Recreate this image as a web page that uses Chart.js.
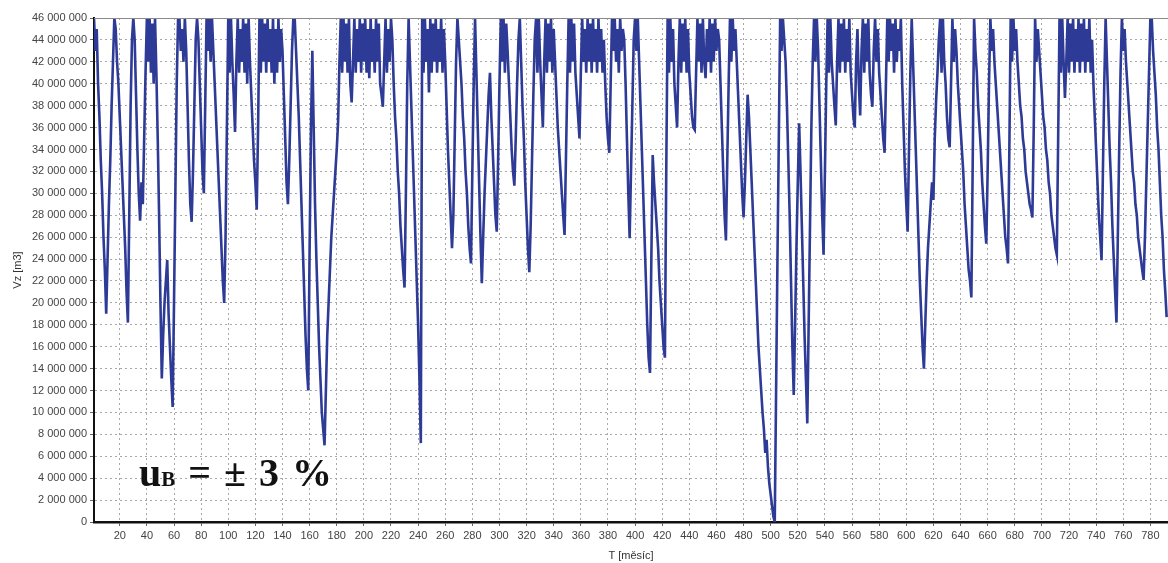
<!DOCTYPE html>
<html>
<head>
<meta charset="utf-8">
<script src="https://cdn.jsdelivr.net/npm/chart.js@4/dist/chart.umd.min.js"></script>
<style>
  body { margin: 0; background: #fff; }
  #wrap { position: relative; width: 1168px; height: 563px; }
  #note {
    position: absolute; left: 139px; top: 453px;
    font-family: 'Liberation Serif', 'Times New Roman', serif;
    font-weight: bold; font-size: 40px; line-height: 40px;
    color: #111; white-space: pre; word-spacing: 3px;
  }
  #note span { font-size: 21px; }
</style>
</head>
<body>
<div id="wrap">
  <canvas id="vzChart"></canvas>
  <div id="note">u<span>B</span> = ± 3 %</div>
</div>
<script>
// x axis: months T [měsíc]
const monthTicks = [20, 40, 60, 80, 100, 120, 140, 160, 180, 200, 220, 240, 260, 280, 300, 320, 340, 360, 380, 400,
  420, 440, 460, 480, 500, 520, 540, 560, 580, 600, 620, 640, 660, 680, 700, 720, 740, 760, 780];

// Vz [m3] in millions, one value per month starting at month 1
const vzMil = [
  46, 43, 45, 40, 37, 33, 30, 26, 23, 19,
  24, 29, 33, 38, 42, 46, 45, 42, 40, 37,
  34, 31, 28, 25, 21, 18.2, 28, 38, 44, 46,
  44, 39, 34, 30, 27.5, 31, 29, 35, 41, 46,
  42, 46, 41, 45.5, 40, 46, 41, 35, 28, 20,
  13.1, 17, 20, 22, 23.9, 19, 16, 13, 10.5, 20,
  30, 40, 46, 46, 43, 45, 42, 46, 43, 38,
  33, 29, 27.4, 32, 38, 44, 46, 44, 40, 36,
  32, 30, 38, 46, 43, 46, 42, 46, 43, 40,
  37, 34, 31, 28, 25, 22, 20, 26, 36, 46,
  41, 46, 42, 39, 35.6, 42, 46, 41, 45, 42,
  46, 41, 45.5, 40, 46, 42, 39, 36, 33, 31,
  28.5, 36, 46, 41, 46, 42, 45.5, 41, 46, 42,
  45, 41, 46, 40, 45, 41, 46, 42, 45, 43,
  39, 35, 31, 29, 33, 38, 43, 46, 46, 43,
  40, 37, 33, 29, 25, 21, 17, 14, 12, 25,
  36, 43, 36, 29, 24, 20, 16, 13, 10, 8.5,
  7, 12, 17, 20, 23, 26, 28, 30, 32, 34,
  36.5, 42, 46, 41, 46, 42, 45.5, 41, 46, 40,
  38.3, 42, 46, 41, 45, 42, 46, 41, 45.5, 42,
  46, 41, 45, 40.5, 46, 42, 45, 41, 46, 42,
  45.5, 40, 39, 37.9, 42, 46, 41, 45, 42, 46,
  44, 40, 37, 35, 32, 30, 27, 25, 23, 21.4,
  30, 40, 46, 42, 38, 34, 30, 26, 22, 18,
  13, 7.2, 46, 41, 46, 42, 45, 39.2, 46, 41,
  45.5, 42, 46, 41, 45, 42, 46, 41, 45, 42,
  38, 34, 31, 28, 25, 28, 35, 42, 46, 44,
  42, 40, 37, 35, 32, 30, 27, 25, 23.6, 32,
  40, 46, 41, 36, 31, 26, 21.8, 26, 30, 33,
  36, 39, 41, 37, 34, 31, 28, 26.5, 33, 40,
  46, 42, 46, 41, 45.5, 43, 40, 37, 34, 32,
  30.7, 35, 40, 44, 46, 42, 38, 35, 31, 28,
  25, 22.8, 27, 33, 39, 44, 46, 41, 46, 42,
  39, 36, 42, 46, 41, 45.5, 42, 46, 41, 45,
  42, 39, 36, 34, 32, 30, 28, 26.2, 33, 40,
  46, 41, 46, 42, 45.5, 41, 39, 37, 35, 41,
  46, 42, 45, 41, 46, 42, 45.5, 41, 46, 42,
  45, 41, 46, 42, 45, 41, 44, 40, 37, 35,
  33.7, 40, 46, 43, 46, 42, 45, 41, 46, 43,
  45, 44, 40, 35, 30, 25.9, 32, 38, 44, 46,
  43, 46, 42, 38, 34, 30, 26, 22, 18, 15,
  13.6, 24, 33.5, 31, 29, 27, 25, 22, 20, 18,
  16, 15, 32, 46, 41, 46, 42, 45, 40, 38,
  36, 42, 46, 41, 45.5, 42, 46, 41, 45, 41,
  39, 37, 36, 35.8, 41, 46, 42, 45.5, 41, 46,
  42, 40.5, 45, 42, 46, 41, 45.5, 42, 46, 43,
  45, 44, 40, 36, 32, 28, 25.7, 33, 40, 46,
  42, 46, 43, 45, 42, 39, 36, 33, 30, 27.8,
  31, 35, 39, 37, 34, 31, 28, 25, 22, 19,
  16, 14, 12, 10, 8.5, 6.3, 7.5, 5, 3.5, 2.5,
  1.5, 0.5, 0, 12, 24, 35, 46, 43, 46, 44,
  42, 38, 33, 28, 22, 16, 11.6, 18, 25, 31,
  36.4, 32, 27, 22, 17, 13, 9, 18, 27, 36,
  42, 46, 42, 46, 43, 38, 33, 28, 24.4, 32,
  40, 46, 41, 46, 42, 40, 38, 36.2, 42, 46,
  41, 45.5, 42, 46, 41, 45, 42, 46, 41, 39,
  37, 36, 42, 45, 40, 37.1, 43, 46, 41, 45.5,
  42, 46, 41, 39, 37.9, 43, 46, 42, 45, 41,
  39, 37, 35, 33.7, 40, 46, 42, 46, 43, 45.5,
  41, 46, 42, 45, 43, 46, 40, 36, 32, 29,
  26.5, 34, 41, 46, 42, 38, 34, 30, 26, 22,
  19, 16, 14, 18, 22, 25, 27, 29, 31, 29.4,
  35, 38.5, 41, 44, 46, 41, 46, 42, 40, 37,
  35, 34.2, 40, 46, 42, 45, 43, 40, 38, 36,
  34, 32, 29, 27, 25, 23, 22, 20.5, 33, 46,
  43, 41, 38, 36, 34, 31, 29, 27, 25.4, 32,
  40, 46, 43, 45, 42, 40, 38, 36, 34, 32,
  30, 28, 26, 25, 23.6, 34, 46, 42, 46, 43,
  45, 42, 40, 38, 37, 35, 34, 32, 31, 30,
  29, 28.5, 27.8, 36, 46, 42, 45, 43, 41, 39,
  37, 36, 34, 33, 31, 30, 28, 27, 26, 25,
  24.4, 35, 46, 41, 46, 42, 38.7, 42, 46, 41,
  45.5, 42, 46, 41, 45, 42, 46, 41, 45.5, 42,
  46, 41, 45, 42, 46, 41, 44, 40, 37, 34,
  31, 28, 26, 23.9, 32, 40, 46, 42, 38, 34,
  31, 27, 24, 21, 18.2, 26, 34, 41, 46, 43,
  45, 42, 40, 38, 36, 34, 32, 31, 29, 28,
  26, 25, 24, 23, 22.1, 26, 31, 36, 41, 46,
  46, 43, 41, 39, 36, 34, 31, 28, 26, 23, 21, 18.7
];

const points = vzMil.map((v, i) => ({ x: i + 1, y: v * 1000000 }));

const fmt = v => String(v).replace(/\B(?=(\d{3})+(?!\d))/g, ' ');

// solid grey line along the top of the plot
const topFrame = {
  id: 'topFrame',
  afterDraw(chart) {
    const { ctx, chartArea } = chart;
    ctx.save();
    ctx.strokeStyle = '#8a8a8a';
    ctx.lineWidth = 1;
    ctx.beginPath();
    ctx.moveTo(chartArea.left, chartArea.top + 0.5);
    ctx.lineTo(chartArea.right, chartArea.top + 0.5);
    ctx.stroke();
    ctx.restore();
  }
};

const ctx = document.getElementById('vzChart').getContext('2d');
const vzChart = new Chart(ctx, {
  type: 'line',
  data: {
    datasets: [{
      label: 'Vz',
      data: points,
      borderColor: '#2d3b97',
      borderWidth: 2.6,
      borderJoinStyle: 'miter',
      pointRadius: 0,
      tension: 0,
      fill: false
    }]
  },
  options: {
    responsive: true,
    maintainAspectRatio: false,
    animation: false,
    layout: { padding: { top: 18, right: 0, bottom: 0, left: 0 } },
    plugins: { legend: { display: false }, tooltip: { enabled: false } },
    scales: {
      x: {
        type: 'linear',
        min: 1,
        max: 793,
        afterBuildTicks: s => { s.ticks = monthTicks.map(v => ({ value: v })); },
        afterFit: s => { s.height = 41; },
        ticks: {
          autoSkip: false,
          maxRotation: 0,
          padding: 3,
          color: '#444',
          font: { family: 'Liberation Sans, Arial', size: 11 }
        },
        grid: { color: '#a8a8a8', tickLength: 4, tickColor: '#666' },
        border: { color: '#111', width: 2.5, dash: [2, 3] },
        title: {
          display: true,
          text: 'T [měsíc]',
          color: '#333',
          padding: { top: 3, bottom: 0 },
          font: { family: 'Liberation Sans, Arial', size: 11 }
        }
      },
      y: {
        min: 0,
        max: 46000000,
        afterFit: s => { s.width = 94; },
        ticks: {
          stepSize: 2000000,
          padding: 3,
          color: '#444',
          callback: v => fmt(v),
          font: { family: 'Liberation Sans, Arial', size: 11 }
        },
        grid: { color: '#a8a8a8', tickLength: 4, tickColor: '#666' },
        border: { color: '#111', width: 2, dash: [2, 3] },
        title: {
          display: true,
          text: 'Vz [m3]',
          color: '#333',
          padding: { top: 11, bottom: 0 },
          font: { family: 'Liberation Sans, Arial', size: 11 }
        }
      }
    }
  },
  plugins: [topFrame]
});
</script>
</body>
</html>
